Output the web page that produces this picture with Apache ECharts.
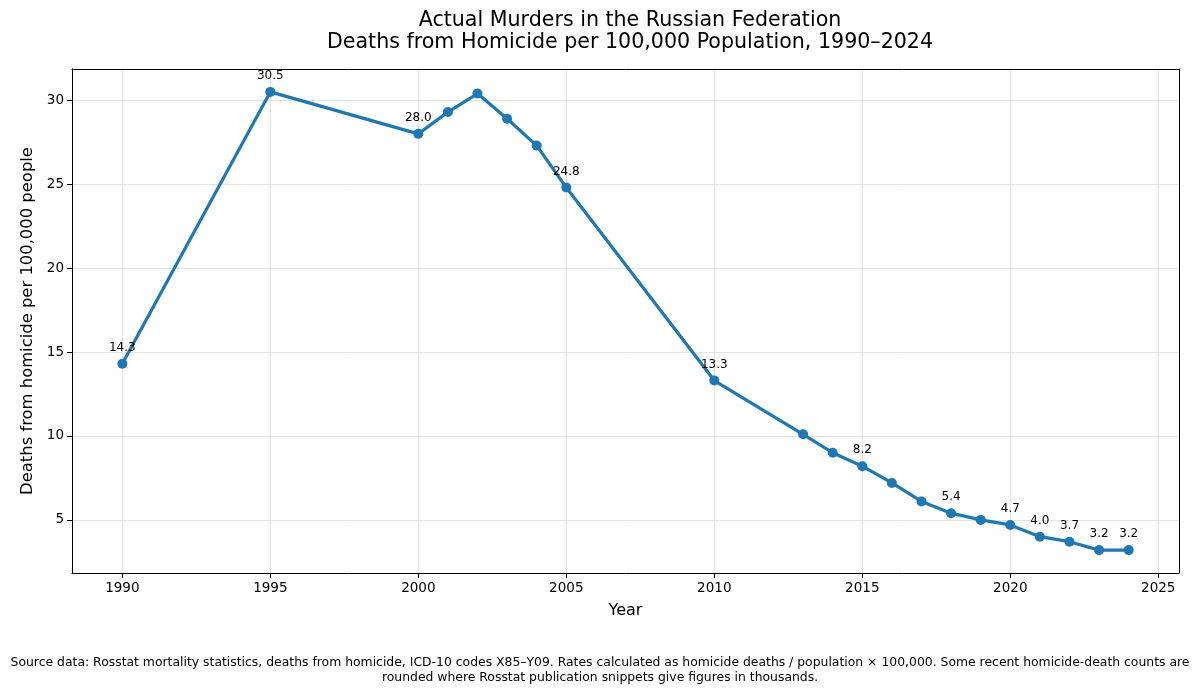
<!DOCTYPE html>
<html>
<head>
<meta charset="utf-8">
<script src="https://cdn.jsdelivr.net/npm/echarts@6/dist/echarts.min.js"></script>
<style>
  html, body { margin: 0; padding: 0; background: #fff; }
  #chart { width: 1200px; height: 695px; }
</style>
</head>
<body>
<div id="chart"></div>
<script>
// data
var years = [1990, 1995, 2000, 2001, 2002, 2003, 2004, 2005, 2010, 2013, 2014, 2015, 2016, 2017, 2018, 2019, 2020, 2021, 2022, 2023, 2024];
var rates = [14.3, 30.5, 28.0, 29.3, 30.4, 28.9, 27.3, 24.8, 13.3, 10.1, 9.0, 8.2, 7.2, 6.1, 5.4, 5.0, 4.7, 4.0, 3.7, 3.2, 3.2];
var labeledYears = [1990, 1995, 2000, 2005, 2010, 2015, 2018, 2020, 2021, 2022, 2023, 2024];
var xTicks = [1990, 1995, 2000, 2005, 2010, 2015, 2020, 2025];
var yTicks = [5, 10, 15, 20, 25, 30];

var FONT = 'DejaVu Sans';
var chart = echarts.init(document.getElementById('chart'));

var points = years.map(function (y, i) {
  var p = { value: [y, rates[i]] };
  if (labeledYears.indexOf(y) >= 0) {
    p.label = { show: true };
  }
  return p;
});

// plain frame lines for the top and right sides
var frameAxis = {
  type: 'value',
  axisLine: { show: true, lineStyle: { color: '#000', width: 1 } },
  axisTick: { show: false },
  axisLabel: { show: false },
  splitLine: { show: false }
};

var option = {
  backgroundColor: '#fff',
  animation: false,
  textStyle: { fontFamily: FONT },
  title: {
    text: 'Actual Murders in the Russian Federation\nDeaths from Homicide per 100,000 Population, 1990–2024',
    left: 625,
    top: 5,
    textAlign: 'center',
    textStyle: { fontFamily: FONT, fontSize: 20.6, fontWeight: 'normal', color: '#000', lineHeight: 22 }
  },
  grid: {
    left: 72, right: 21, top: 69, bottom: 122
  },
  xAxis: [{
    type: 'value',
    min: 1988.3, max: 2025.7,
    name: 'Year',
    nameLocation: 'middle',
    nameGap: 30,
    nameTextStyle: { fontFamily: FONT, fontSize: 16, color: '#000' },
    axisLine: { show: true, lineStyle: { color: '#000', width: 1 } },
    axisTick: { show: true, customValues: xTicks, length: 5, inside: false, lineStyle: { color: '#000' } },
    axisLabel: {
      customValues: xTicks, fontFamily: FONT, fontSize: 13.5, color: '#000', margin: 8,
      formatter: function (v) { return String(v); }
    },
    splitLine: { show: true, lineStyle: { color: '#e3e3e3', width: 1 } }
  }, Object.assign({ position: 'top', min: 0, max: 1 }, frameAxis)],
  yAxis: [{
    type: 'value',
    min: 1.835, max: 31.865,
    name: 'Deaths from homicide per 100,000 people',
    nameLocation: 'middle',
    nameGap: 35,
    nameTextStyle: { fontFamily: FONT, fontSize: 16.4, color: '#000' },
    axisLine: { show: true, lineStyle: { color: '#000', width: 1 } },
    axisTick: { show: true, customValues: yTicks, length: 5, lineStyle: { color: '#000' } },
    axisLabel: { customValues: yTicks, fontFamily: FONT, fontSize: 13.5, color: '#000', margin: 8 },
    splitLine: { show: true, lineStyle: { color: '#e3e3e3', width: 1 } }
  }, Object.assign({ position: 'right', min: 0, max: 1 }, frameAxis)],
  series: [{
    type: 'line',
    data: points,
    symbol: 'circle',
    symbolSize: 10,
    showAllSymbol: true,
    lineStyle: { color: '#1f77b4', width: 3.2 },
    itemStyle: { color: '#1f77b4' },
    label: {
      show: false,
      position: 'top',
      distance: 5,
      fontFamily: FONT,
      fontSize: 12,
      color: '#000',
      formatter: function (p) { return p.value[1].toFixed(1); }
    }
  }],
  graphic: [{
    type: 'text',
    left: 'center',
    top: 656,
    style: {
      text: 'Source data: Rosstat mortality statistics, deaths from homicide, ICD-10 codes X85–Y09. Rates calculated as homicide deaths / population × 100,000. Some recent homicide-death counts are\nrounded where Rosstat publication snippets give figures in thousands.',
      fontFamily: FONT,
      fontSize: 12.4,
      lineHeight: 14.5,
      fill: '#000',
      textAlign: 'center'
    }
  }]
};

chart.setOption(option);
</script>
</body>
</html>
